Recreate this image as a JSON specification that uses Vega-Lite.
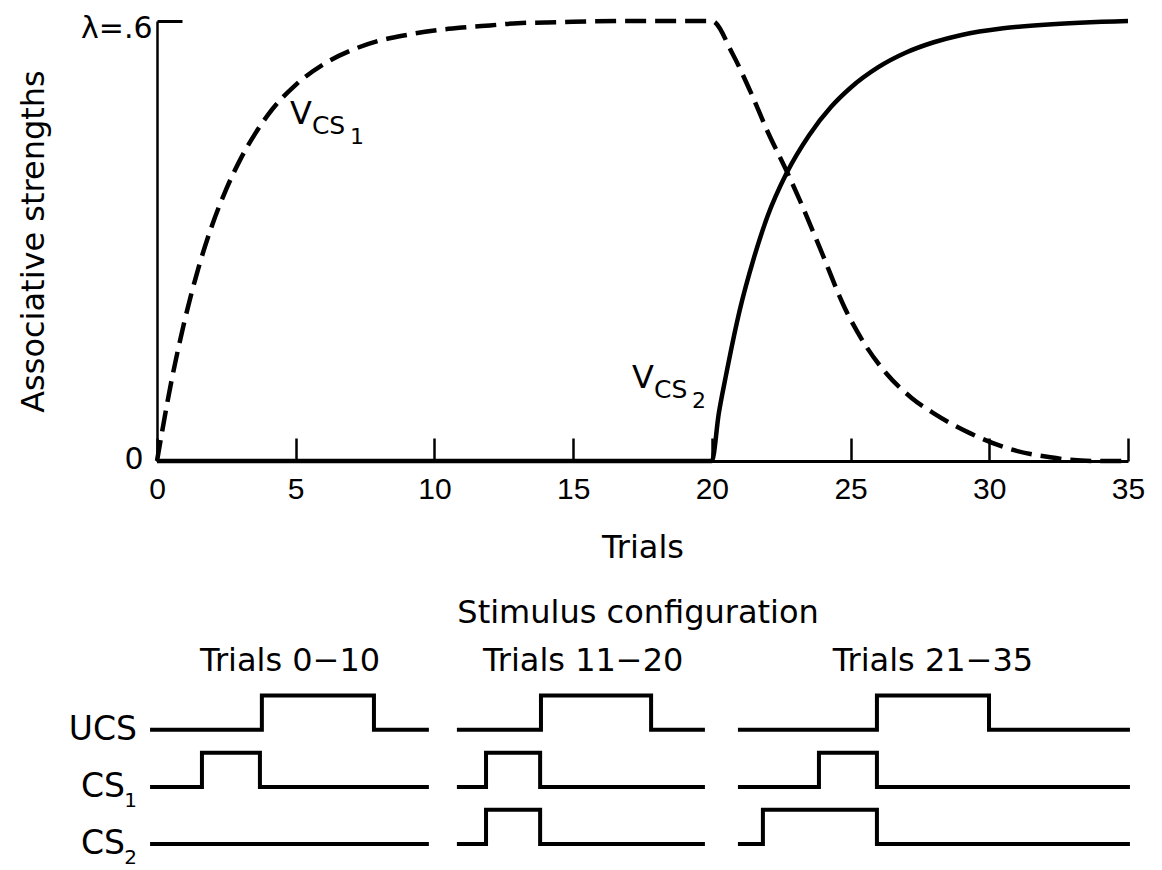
{
  "$schema": "https://vega.github.io/schema/vega-lite/v6.json",
  "background": "white",
  "padding": {"left": 17, "top": 12, "right": 5, "bottom": 0},
  "config": {
    "view": {"stroke": null},
    "axis": {"grid": false, "domainColor": "black", "tickColor": "black", "labelColor": "black", "titleColor": "black"}
  },
  "datasets": {
    "curves": [
      {"s": "V_CS1", "t": 0, "v": 0},
      {"s": "V_CS1", "t": 0.5, "v": 0.105},
      {"s": "V_CS1", "t": 1, "v": 0.192},
      {"s": "V_CS1", "t": 1.5, "v": 0.264},
      {"s": "V_CS1", "t": 2, "v": 0.323},
      {"s": "V_CS1", "t": 2.5, "v": 0.371},
      {"s": "V_CS1", "t": 3, "v": 0.411},
      {"s": "V_CS1", "t": 3.5, "v": 0.444},
      {"s": "V_CS1", "t": 4, "v": 0.472},
      {"s": "V_CS1", "t": 5, "v": 0.513},
      {"s": "V_CS1", "t": 6, "v": 0.541},
      {"s": "V_CS1", "t": 7, "v": 0.56},
      {"s": "V_CS1", "t": 8, "v": 0.573},
      {"s": "V_CS1", "t": 9, "v": 0.581},
      {"s": "V_CS1", "t": 10, "v": 0.587},
      {"s": "V_CS1", "t": 11, "v": 0.591},
      {"s": "V_CS1", "t": 12, "v": 0.594},
      {"s": "V_CS1", "t": 13, "v": 0.597},
      {"s": "V_CS1", "t": 14, "v": 0.598},
      {"s": "V_CS1", "t": 15, "v": 0.599},
      {"s": "V_CS1", "t": 17, "v": 0.6},
      {"s": "V_CS1", "t": 20, "v": 0.6},
      {"s": "V_CS1", "t": 20.75, "v": 0.555},
      {"s": "V_CS1", "t": 21.4, "v": 0.503},
      {"s": "V_CS1", "t": 22, "v": 0.45},
      {"s": "V_CS1", "t": 22.7, "v": 0.395},
      {"s": "V_CS1", "t": 23.2, "v": 0.353},
      {"s": "V_CS1", "t": 23.9, "v": 0.29},
      {"s": "V_CS1", "t": 24.8, "v": 0.208},
      {"s": "V_CS1", "t": 25.5, "v": 0.16},
      {"s": "V_CS1", "t": 26.3, "v": 0.119},
      {"s": "V_CS1", "t": 27.2, "v": 0.086},
      {"s": "V_CS1", "t": 28, "v": 0.065},
      {"s": "V_CS1", "t": 29.3, "v": 0.038},
      {"s": "V_CS1", "t": 30.6, "v": 0.018},
      {"s": "V_CS1", "t": 32.2, "v": 0.005},
      {"s": "V_CS1", "t": 33.7, "v": 0},
      {"s": "V_CS1", "t": 35, "v": 0},
      {"s": "V_CS2", "t": 0, "v": 0},
      {"s": "V_CS2", "t": 10, "v": 0},
      {"s": "V_CS2", "t": 20, "v": 0},
      {"s": "V_CS2", "t": 20.25, "v": 0.065},
      {"s": "V_CS2", "t": 20.5, "v": 0.115},
      {"s": "V_CS2", "t": 21, "v": 0.205},
      {"s": "V_CS2", "t": 21.5, "v": 0.275},
      {"s": "V_CS2", "t": 22, "v": 0.333},
      {"s": "V_CS2", "t": 22.7, "v": 0.393},
      {"s": "V_CS2", "t": 23.5, "v": 0.444},
      {"s": "V_CS2", "t": 24.3, "v": 0.483},
      {"s": "V_CS2", "t": 25, "v": 0.509},
      {"s": "V_CS2", "t": 26, "v": 0.537},
      {"s": "V_CS2", "t": 27, "v": 0.557},
      {"s": "V_CS2", "t": 28, "v": 0.571},
      {"s": "V_CS2", "t": 29, "v": 0.581},
      {"s": "V_CS2", "t": 30.5, "v": 0.59},
      {"s": "V_CS2", "t": 32, "v": 0.595},
      {"s": "V_CS2", "t": 35, "v": 0.6}
    ],
    "vlabels": [
      {"t": 4.79, "v": 0.4595, "digit": "1"},
      {"t": 17.12, "v": 0.0995, "digit": "2"}
    ],
    "steps": [
      {"s": "UCS1", "i": 0, "t": -0.25, "y": 2}, {"s": "UCS1", "i": 1, "t": 3.78, "y": 2}, {"s": "UCS1", "i": 2, "t": 3.78, "y": 2.6}, {"s": "UCS1", "i": 3, "t": 7.82, "y": 2.6}, {"s": "UCS1", "i": 4, "t": 7.82, "y": 2}, {"s": "UCS1", "i": 5, "t": 9.8, "y": 2},
      {"s": "CS1_1", "i": 0, "t": -0.25, "y": 1}, {"s": "CS1_1", "i": 1, "t": 1.62, "y": 1}, {"s": "CS1_1", "i": 2, "t": 1.62, "y": 1.6}, {"s": "CS1_1", "i": 3, "t": 3.71, "y": 1.6}, {"s": "CS1_1", "i": 4, "t": 3.71, "y": 1}, {"s": "CS1_1", "i": 5, "t": 9.8, "y": 1},
      {"s": "CS2_1", "i": 0, "t": -0.25, "y": 0}, {"s": "CS2_1", "i": 1, "t": 9.8, "y": 0},
      {"s": "UCS2", "i": 0, "t": 10.81, "y": 2}, {"s": "UCS2", "i": 1, "t": 13.84, "y": 2}, {"s": "UCS2", "i": 2, "t": 13.84, "y": 2.6}, {"s": "UCS2", "i": 3, "t": 17.81, "y": 2.6}, {"s": "UCS2", "i": 4, "t": 17.81, "y": 2}, {"s": "UCS2", "i": 5, "t": 19.75, "y": 2},
      {"s": "CS1_2", "i": 0, "t": 10.81, "y": 1}, {"s": "CS1_2", "i": 1, "t": 11.86, "y": 1}, {"s": "CS1_2", "i": 2, "t": 11.86, "y": 1.6}, {"s": "CS1_2", "i": 3, "t": 13.81, "y": 1.6}, {"s": "CS1_2", "i": 4, "t": 13.81, "y": 1}, {"s": "CS1_2", "i": 5, "t": 19.75, "y": 1},
      {"s": "CS2_2", "i": 0, "t": 10.81, "y": 0}, {"s": "CS2_2", "i": 1, "t": 11.86, "y": 0}, {"s": "CS2_2", "i": 2, "t": 11.86, "y": 0.6}, {"s": "CS2_2", "i": 3, "t": 13.81, "y": 0.6}, {"s": "CS2_2", "i": 4, "t": 13.81, "y": 0}, {"s": "CS2_2", "i": 5, "t": 19.75, "y": 0},
      {"s": "UCS3", "i": 0, "t": 20.94, "y": 2}, {"s": "UCS3", "i": 1, "t": 25.95, "y": 2}, {"s": "UCS3", "i": 2, "t": 25.95, "y": 2.6}, {"s": "UCS3", "i": 3, "t": 29.99, "y": 2.6}, {"s": "UCS3", "i": 4, "t": 29.99, "y": 2}, {"s": "UCS3", "i": 5, "t": 35.07, "y": 2},
      {"s": "CS1_3", "i": 0, "t": 20.94, "y": 1}, {"s": "CS1_3", "i": 1, "t": 23.86, "y": 1}, {"s": "CS1_3", "i": 2, "t": 23.86, "y": 1.6}, {"s": "CS1_3", "i": 3, "t": 25.95, "y": 1.6}, {"s": "CS1_3", "i": 4, "t": 25.95, "y": 1}, {"s": "CS1_3", "i": 5, "t": 35.07, "y": 1},
      {"s": "CS2_3", "i": 0, "t": 20.94, "y": 0}, {"s": "CS2_3", "i": 1, "t": 21.84, "y": 0}, {"s": "CS2_3", "i": 2, "t": 21.84, "y": 0.6}, {"s": "CS2_3", "i": 3, "t": 25.95, "y": 0.6}, {"s": "CS2_3", "i": 4, "t": 25.95, "y": 0}, {"s": "CS2_3", "i": 5, "t": 35.07, "y": 0}
    ],
    "rowlabels": [
      {"main": "UCS", "sub": "", "t": -0.72, "y": 2},
      {"main": "CS", "sub": "1", "t": -0.72, "y": 1},
      {"main": "CS", "sub": "2", "t": -0.72, "y": 0}
    ],
    "headers": [
      {"label": "Stimulus configuration", "t": 17.34, "y": 4.05},
      {"label": "Trials 0−10", "t": 4.8, "y": 3.21},
      {"label": "Trials 11−20", "t": 15.36, "y": 3.21},
      {"label": "Trials 21−35", "t": 27.97, "y": 3.21}
    ]
  },
  "spacing": 27,
  "vconcat": [
    {
      "width": 971,
      "height": 440,
      "layer": [
        {
          "data": {"name": "curves"},
          "transform": [{"filter": "datum.s == 'V_CS1'"}],
          "mark": {"type": "line", "color": "black", "strokeWidth": 4.5, "strokeDash": [21, 9], "interpolate": "monotone"},
          "encoding": {
            "x": {
              "field": "t", "type": "quantitative",
              "scale": {"domain": [0, 35], "nice": false, "zero": false},
              "axis": {
                "title": "Trials", "values": [0, 5, 10, 15, 20, 25, 30, 35], "format": "d",
                "tickSize": -23, "tickWidth": 2.5, "domainWidth": 3,
                "labelFont": "Liberation Sans", "labelFontSize": 30, "labelPadding": 36,
                "labelFlush": false, "labelOverlap": false,
                "titleFont": "DejaVu Sans", "titleFontSize": 32, "titleFontWeight": "normal", "titlePadding": 28
              }
            },
            "y": {
              "field": "v", "type": "quantitative",
              "scale": {"domain": [0, 0.6], "nice": false, "zero": false},
              "axis": {
                "title": "Associative strengths", "values": [0, 0.6],
                "labelExpr": "datum.value == 0 ? '0' : 'λ=.6'",
                "tickSize": -25, "tickWidth": 3, "domainWidth": 2.5,
                "labelFont": "DejaVu Sans", "labelFontSize": 30,
                "labelPadding": {"condition": {"test": "datum.value == 0", "value": 39}, "value": 30},
                "labelOffset": {"condition": {"test": "datum.value == 0", "value": -2}, "value": 7},
                "labelFlush": false, "labelOverlap": false,
                "titleFont": "DejaVu Sans", "titleFontSize": 32, "titleFontWeight": "normal", "titlePadding": 30
              }
            }
          }
        },
        {
          "data": {"name": "curves"},
          "transform": [{"filter": "datum.s == 'V_CS2'"}],
          "mark": {"type": "line", "color": "black", "strokeWidth": 4.5, "interpolate": "monotone"},
          "encoding": {
            "x": {"field": "t", "type": "quantitative", "scale": {"domain": [0, 35], "nice": false, "zero": false}},
            "y": {"field": "v", "type": "quantitative", "scale": {"domain": [0, 0.6], "nice": false, "zero": false}}
          }
        },
        {
          "data": {"name": "vlabels"},
          "mark": {"type": "text", "text": "V", "font": "DejaVu Sans", "fontSize": 32, "align": "left", "baseline": "alphabetic", "color": "black"},
          "encoding": {
            "x": {"field": "t", "type": "quantitative", "scale": {"domain": [0, 35], "nice": false, "zero": false}},
            "y": {"field": "v", "type": "quantitative", "scale": {"domain": [0, 0.6], "nice": false, "zero": false}}
          }
        },
        {
          "data": {"name": "vlabels"},
          "mark": {"type": "text", "text": "CS", "font": "DejaVu Sans", "fontSize": 25, "align": "left", "baseline": "alphabetic", "dx": 22, "dy": 10, "color": "black"},
          "encoding": {
            "x": {"field": "t", "type": "quantitative", "scale": {"domain": [0, 35], "nice": false, "zero": false}},
            "y": {"field": "v", "type": "quantitative", "scale": {"domain": [0, 0.6], "nice": false, "zero": false}}
          }
        },
        {
          "data": {"name": "vlabels"},
          "mark": {"type": "text", "font": "DejaVu Sans", "fontSize": 22, "align": "left", "baseline": "alphabetic", "dx": 60, "dy": 20, "color": "black"},
          "encoding": {
            "x": {"field": "t", "type": "quantitative", "scale": {"domain": [0, 35], "nice": false, "zero": false}},
            "y": {"field": "v", "type": "quantitative", "scale": {"domain": [0, 0.6], "nice": false, "zero": false}},
            "text": {"field": "digit"}
          }
        }
      ]
    },
    {
      "width": 971,
      "height": 274,
      "layer": [
        {
          "data": {"name": "steps"},
          "mark": {"type": "line", "color": "black", "strokeWidth": 4, "strokeJoin": "miter"},
          "encoding": {
            "x": {"field": "t", "type": "quantitative", "scale": {"domain": [0, 35], "nice": false, "zero": false}, "axis": null},
            "y": {"field": "y", "type": "quantitative", "scale": {"domain": [-0.35, 4.45], "nice": false, "zero": false}, "axis": null},
            "detail": {"field": "s"},
            "order": {"field": "i"}
          }
        },
        {
          "data": {"name": "headers"},
          "mark": {"type": "text", "font": "DejaVu Sans", "fontSize": 32, "align": "center", "baseline": "middle", "color": "black"},
          "encoding": {
            "x": {"field": "t", "type": "quantitative", "scale": {"domain": [0, 35], "nice": false, "zero": false}, "axis": null},
            "y": {"field": "y", "type": "quantitative", "scale": {"domain": [-0.35, 4.45], "nice": false, "zero": false}, "axis": null},
            "text": {"field": "label"}
          }
        },
        {
          "data": {"name": "rowlabels"},
          "transform": [{"filter": "datum.sub == ''"}],
          "mark": {"type": "text", "font": "DejaVu Sans", "fontSize": 33, "align": "right", "baseline": "middle", "color": "black"},
          "encoding": {
            "x": {"field": "t", "type": "quantitative", "scale": {"domain": [0, 35], "nice": false, "zero": false}, "axis": null},
            "y": {"field": "y", "type": "quantitative", "scale": {"domain": [-0.35, 4.45], "nice": false, "zero": false}, "axis": null},
            "text": {"field": "main"}
          }
        },
        {
          "data": {"name": "rowlabels"},
          "transform": [{"filter": "datum.sub != ''"}],
          "mark": {"type": "text", "font": "DejaVu Sans", "fontSize": 33, "align": "right", "baseline": "middle", "dx": -12, "color": "black"},
          "encoding": {
            "x": {"field": "t", "type": "quantitative", "scale": {"domain": [0, 35], "nice": false, "zero": false}, "axis": null},
            "y": {"field": "y", "type": "quantitative", "scale": {"domain": [-0.35, 4.45], "nice": false, "zero": false}, "axis": null},
            "text": {"field": "main"}
          }
        },
        {
          "data": {"name": "rowlabels"},
          "transform": [{"filter": "datum.sub != ''"}],
          "mark": {"type": "text", "font": "DejaVu Sans", "fontSize": 20, "align": "right", "baseline": "middle", "dy": 14, "color": "black"},
          "encoding": {
            "x": {"field": "t", "type": "quantitative", "scale": {"domain": [0, 35], "nice": false, "zero": false}, "axis": null},
            "y": {"field": "y", "type": "quantitative", "scale": {"domain": [-0.35, 4.45], "nice": false, "zero": false}, "axis": null},
            "text": {"field": "sub"}
          }
        }
      ]
    }
  ]
}
